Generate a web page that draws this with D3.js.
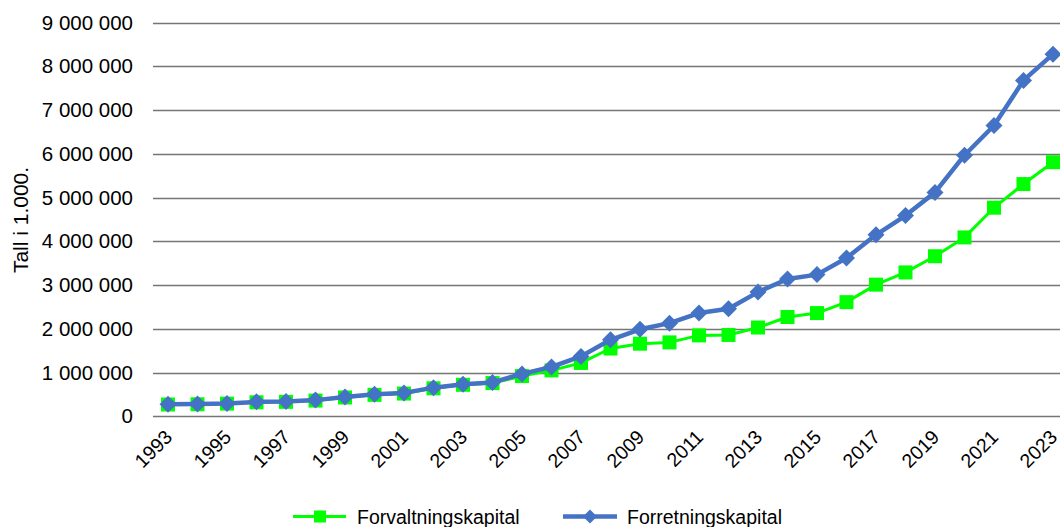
<!DOCTYPE html>
<html><head><meta charset="utf-8">
<script src="https://cdn.jsdelivr.net/npm/d3@7"></script>
<style>
html,body{margin:0;padding:0;background:#fff;}
svg{display:block;font-family:"Liberation Sans",Arial,sans-serif;}
</style></head>
<body><svg id="c" width="1060" height="527"></svg>
<script>
const years = d3.range(1993, 2024);
const tickYears = years.filter(y => (y - 1993) % 2 === 0);
const yTicks = [0,1e6,2e6,3e6,4e6,5e6,6e6,7e6,8e6,9e6];
const forvaltning = [270000,275000,290000,320000,330000,360000,430000,490000,520000,640000,720000,760000,920000,1050000,1220000,1550000,1660000,1690000,1850000,1860000,2030000,2270000,2360000,2610000,3010000,3290000,3660000,4090000,4770000,5310000,5810000];
const forretning = [275000,280000,295000,330000,340000,370000,440000,505000,535000,655000,735000,775000,970000,1130000,1370000,1750000,1990000,2130000,2360000,2460000,2840000,3140000,3240000,3620000,4150000,4590000,5120000,5970000,6650000,7680000,8280000];
const seriesNames = ["Forvaltningskapital","Forretningskapital"];

const svg = d3.select("#c");
const x = d3.scalePoint().domain(years).range([153.25, 1067.75]).padding(0.5);
const y = d3.scaleLinear().domain([0, 9e6]).range([416.3, 22.7]);
const loc = d3.formatLocale({decimal:",", thousands:"\u00a0", grouping:[3], currency:["",""]});
const fmt = loc.format(",d");

// gridlines
svg.append("g").selectAll("line").data(yTicks).join("line")
  .attr("x1", 153).attr("x2", 1070)
  .attr("y1", d => Math.round(y(d)) + 0.5).attr("y2", d => Math.round(y(d)) + 0.5)
  .attr("stroke", "#767676").attr("stroke-width", 1.3);

// y axis labels
const yAxis = svg.append("g").attr("transform", "translate(133,0)")
  .call(d3.axisLeft(y).tickValues(yTicks).tickFormat(fmt).tickSize(0).tickPadding(0));
yAxis.select(".domain").remove();
yAxis.selectAll("text").attr("font-size", 20.5).attr("fill", "#000")
  .attr("font-family", "Liberation Sans, Arial, sans-serif");

// x axis labels
const xAxis = svg.append("g").attr("transform", "translate(0,416.3)")
  .call(d3.axisBottom(x).tickValues(tickYears).tickSize(0).tickPadding(0));
xAxis.select(".domain").remove();
xAxis.selectAll("text")
  .attr("font-size", 19.5).attr("fill", "#000")
  .attr("font-family", "Liberation Sans, Arial, sans-serif")
  .attr("text-anchor", "end").attr("dy", null)
  .attr("transform", "translate(5,22) rotate(-45)");

// y title
svg.append("text").attr("transform", "translate(28,220) rotate(-90)")
  .attr("text-anchor", "middle").attr("font-size", 21).text("Tall i 1.000.");

const line = d3.line().x((d,i) => x(years[i])).y(d => y(d));

// green series
svg.append("path").datum(forvaltning).attr("d", line)
  .attr("fill", "none").attr("stroke", "#00ff00").attr("stroke-width", 3).attr("stroke-linejoin","round");
svg.append("g").selectAll("rect").data(forvaltning).join("rect")
  .attr("x", (d,i) => x(years[i]) - 7).attr("y", d => y(d) - 7)
  .attr("width", 14).attr("height", 14).attr("fill", "#00ff00");

// blue series
svg.append("path").datum(forretning).attr("d", line)
  .attr("fill", "none").attr("stroke", "#4472c4").attr("stroke-width", 4.5).attr("stroke-linejoin","round");
svg.append("g").selectAll("path.m").data(forretning).join("path").attr("class","m")
  .attr("d", (d,i) => { const cx = x(years[i]), cy = y(d), r = 8.5; return `M${cx},${cy-r}L${cx+r},${cy}L${cx},${cy+r}L${cx-r},${cy}Z`; })
  .attr("fill", "#4472c4");

// legend
const lg = svg.append("g");
const ly = 516.5;
lg.append("line").attr("x1", 293).attr("x2", 346).attr("y1", ly).attr("y2", ly).attr("stroke", "#00ff00").attr("stroke-width", 3);
lg.append("rect").attr("x", 314).attr("y", ly - 6).attr("width", 12).attr("height", 12).attr("fill", "#00ff00");
lg.append("text").attr("x", 357).attr("y", ly + 7).attr("font-size", 19.5).text(seriesNames[0]);
lg.append("line").attr("x1", 563).attr("x2", 617).attr("y1", ly).attr("y2", ly).attr("stroke", "#4472c4").attr("stroke-width", 4.5);
lg.append("path").attr("d", `M590,${ly-7}L597,${ly}L590,${ly+7}L583,${ly}Z`).attr("fill", "#4472c4");
lg.append("text").attr("x", 627).attr("y", ly + 7).attr("font-size", 19.5).text(seriesNames[1]);
</script></body></html>
